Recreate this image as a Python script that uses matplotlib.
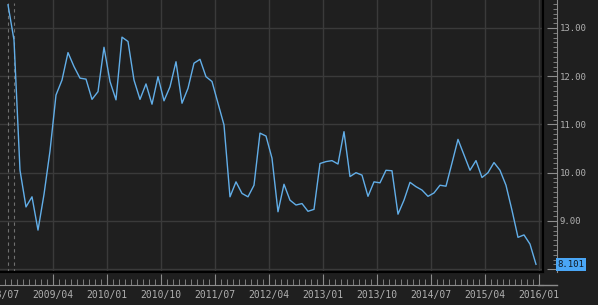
import matplotlib
matplotlib.use("Agg")
import matplotlib.pyplot as plt
from matplotlib.lines import Line2D
from matplotlib.transforms import blended_transform_factory
from matplotlib.ticker import MultipleLocator, FixedLocator, FuncFormatter

# monthly values, 2008/08 .. 2015/12
values = [13.48, 12.75, 10.05, 9.29, 9.50, 8.81, 9.55, 10.45, 11.61, 11.92,
          12.49, 12.20, 11.96, 11.94, 11.52, 11.68, 12.60, 11.89, 11.51, 12.81,
          12.72, 11.92, 11.52, 11.84, 11.42, 11.99, 11.49, 11.78, 12.30, 11.44,
          11.75, 12.27, 12.35, 11.99, 11.89, 11.44, 10.99, 9.50, 9.81, 9.57,
          9.50, 9.74, 10.82, 10.76, 10.30, 9.19, 9.76, 9.43, 9.33, 9.36,
          9.20, 9.24, 10.19, 10.23, 10.25, 10.18, 10.85, 9.92, 10.00, 9.95,
          9.51, 9.81, 9.79, 10.05, 10.04, 9.14, 9.43, 9.80, 9.71, 9.64,
          9.51, 9.58, 9.74, 9.72, 10.20, 10.69, 10.37, 10.05, 10.25, 9.90,
          10.00, 10.21, 10.05, 9.74, 9.22, 8.66, 8.71, 8.52, 8.101]
first_month = 1  # months after 2008/07
tick_labels = ["2008/07", "2009/04", "2010/01", "2010/10", "2011/07", "2012/04",
               "2013/01", "2013/10", "2014/07", "2015/04", "2016/01"]
last_label = "8.101"

bg = "#1f1f1f"
grid_c = "#3a3a3a"
axis_c = "#8c8c8c"
text_c = "#b0b0b0"
px = 72 / 100  # one pixel in points

# x in months since 2008/07, points sit mid-month
x = [first_month + i + 0.5 for i in range(len(values))]

fig = plt.figure(figsize=(5.98, 3.05), dpi=100, facecolor=bg)
ax = fig.add_axes([0, 0.108, 0.908, 0.892], facecolor=bg)

ax.plot(x, values, color="#62aee8", lw=1.0, zorder=3)
for xv in x[:2]:
    ax.axvline(xv, color="#707070", ls=(0, (3, 3)), lw=0.8, ymax=0.99, zorder=2)

ax.set_xlim(1 / 6, 544 / 6)
ax.set_ylim(7.94, 13.58)

ax.xaxis.set_major_locator(FixedLocator([9 * i for i in range(len(tick_labels))]))
ax.xaxis.set_major_formatter(FuncFormatter(lambda v, p: tick_labels[int(round(v / 9))]))
ax.xaxis.set_minor_locator(MultipleLocator(1))
ax.yaxis.set_major_locator(MultipleLocator(1))
ax.yaxis.set_minor_locator(MultipleLocator(0.1))
# the 8.00 label sits under the last-value badge
ax.yaxis.set_major_formatter(FuncFormatter(lambda v, p: "" if v < 8.5 else f"{v:.2f}"))
ax.yaxis.tick_right()

ax.grid(True, which="major", color=grid_c, lw=1)
ax.set_axisbelow(True)

for s in ["top", "left"]:
    ax.spines[s].set_visible(False)
ax.spines["bottom"].set_position(("outward", 13 * px))
ax.spines["right"].set_position(("outward", 14 * px))
ax.spines["bottom"].set_color(axis_c)
ax.spines["right"].set_color(axis_c)

ax.tick_params(axis="x", which="major", direction="in", length=8, color=axis_c,
               labelsize=7, labelcolor=text_c, pad=3.5)
ax.tick_params(axis="x", which="minor", direction="in", length=4, color=axis_c)
ax.tick_params(axis="y", which="major", direction="in", length=7, color=axis_c,
               labelsize=6.5, labelcolor=text_c, pad=2)
ax.tick_params(axis="y", which="minor", direction="in", length=3, color=axis_c)
for lab in ax.get_xticklabels() + ax.get_yticklabels():
    lab.set_family("DejaVu Sans Mono")

# first month label falls just left of the view, only its tail shows
first_lab = ax.get_xticklabels()[1]
ax.text(0, 0, tick_labels[0], fontsize=7, family="DejaVu Sans Mono", color=text_c,
        ha="center", va="top", clip_on=False,
        transform=blended_transform_factory(ax.transData, fig.transFigure))
fig.canvas.draw()
ytop = first_lab.get_window_extent().y1 / fig.bbox.height
ax.texts[-1].set_y(ytop)

# black plot border
ax.plot([1, 1], [0, 1], color="black", lw=1.5, transform=ax.transAxes, clip_on=False, zorder=4)
ax.plot([0, 1], [0, 0], color="black", lw=1.5, transform=ax.transAxes, clip_on=False, zorder=4)
fig.add_artist(Line2D([0.9, 557 / 598], [1 - 285 / 305] * 2, color=axis_c, lw=1))

ax.text(1.027, values[-1], last_label, transform=ax.get_yaxis_transform(),
        ha="left", va="center", fontsize=6.5, family="DejaVu Sans Mono", color="#101820",
        bbox=dict(boxstyle="square,pad=0.2", fc="#4aa6f5", ec="none"), clip_on=False, zorder=5)

fig.savefig("out.png", dpi=100, facecolor=bg)
